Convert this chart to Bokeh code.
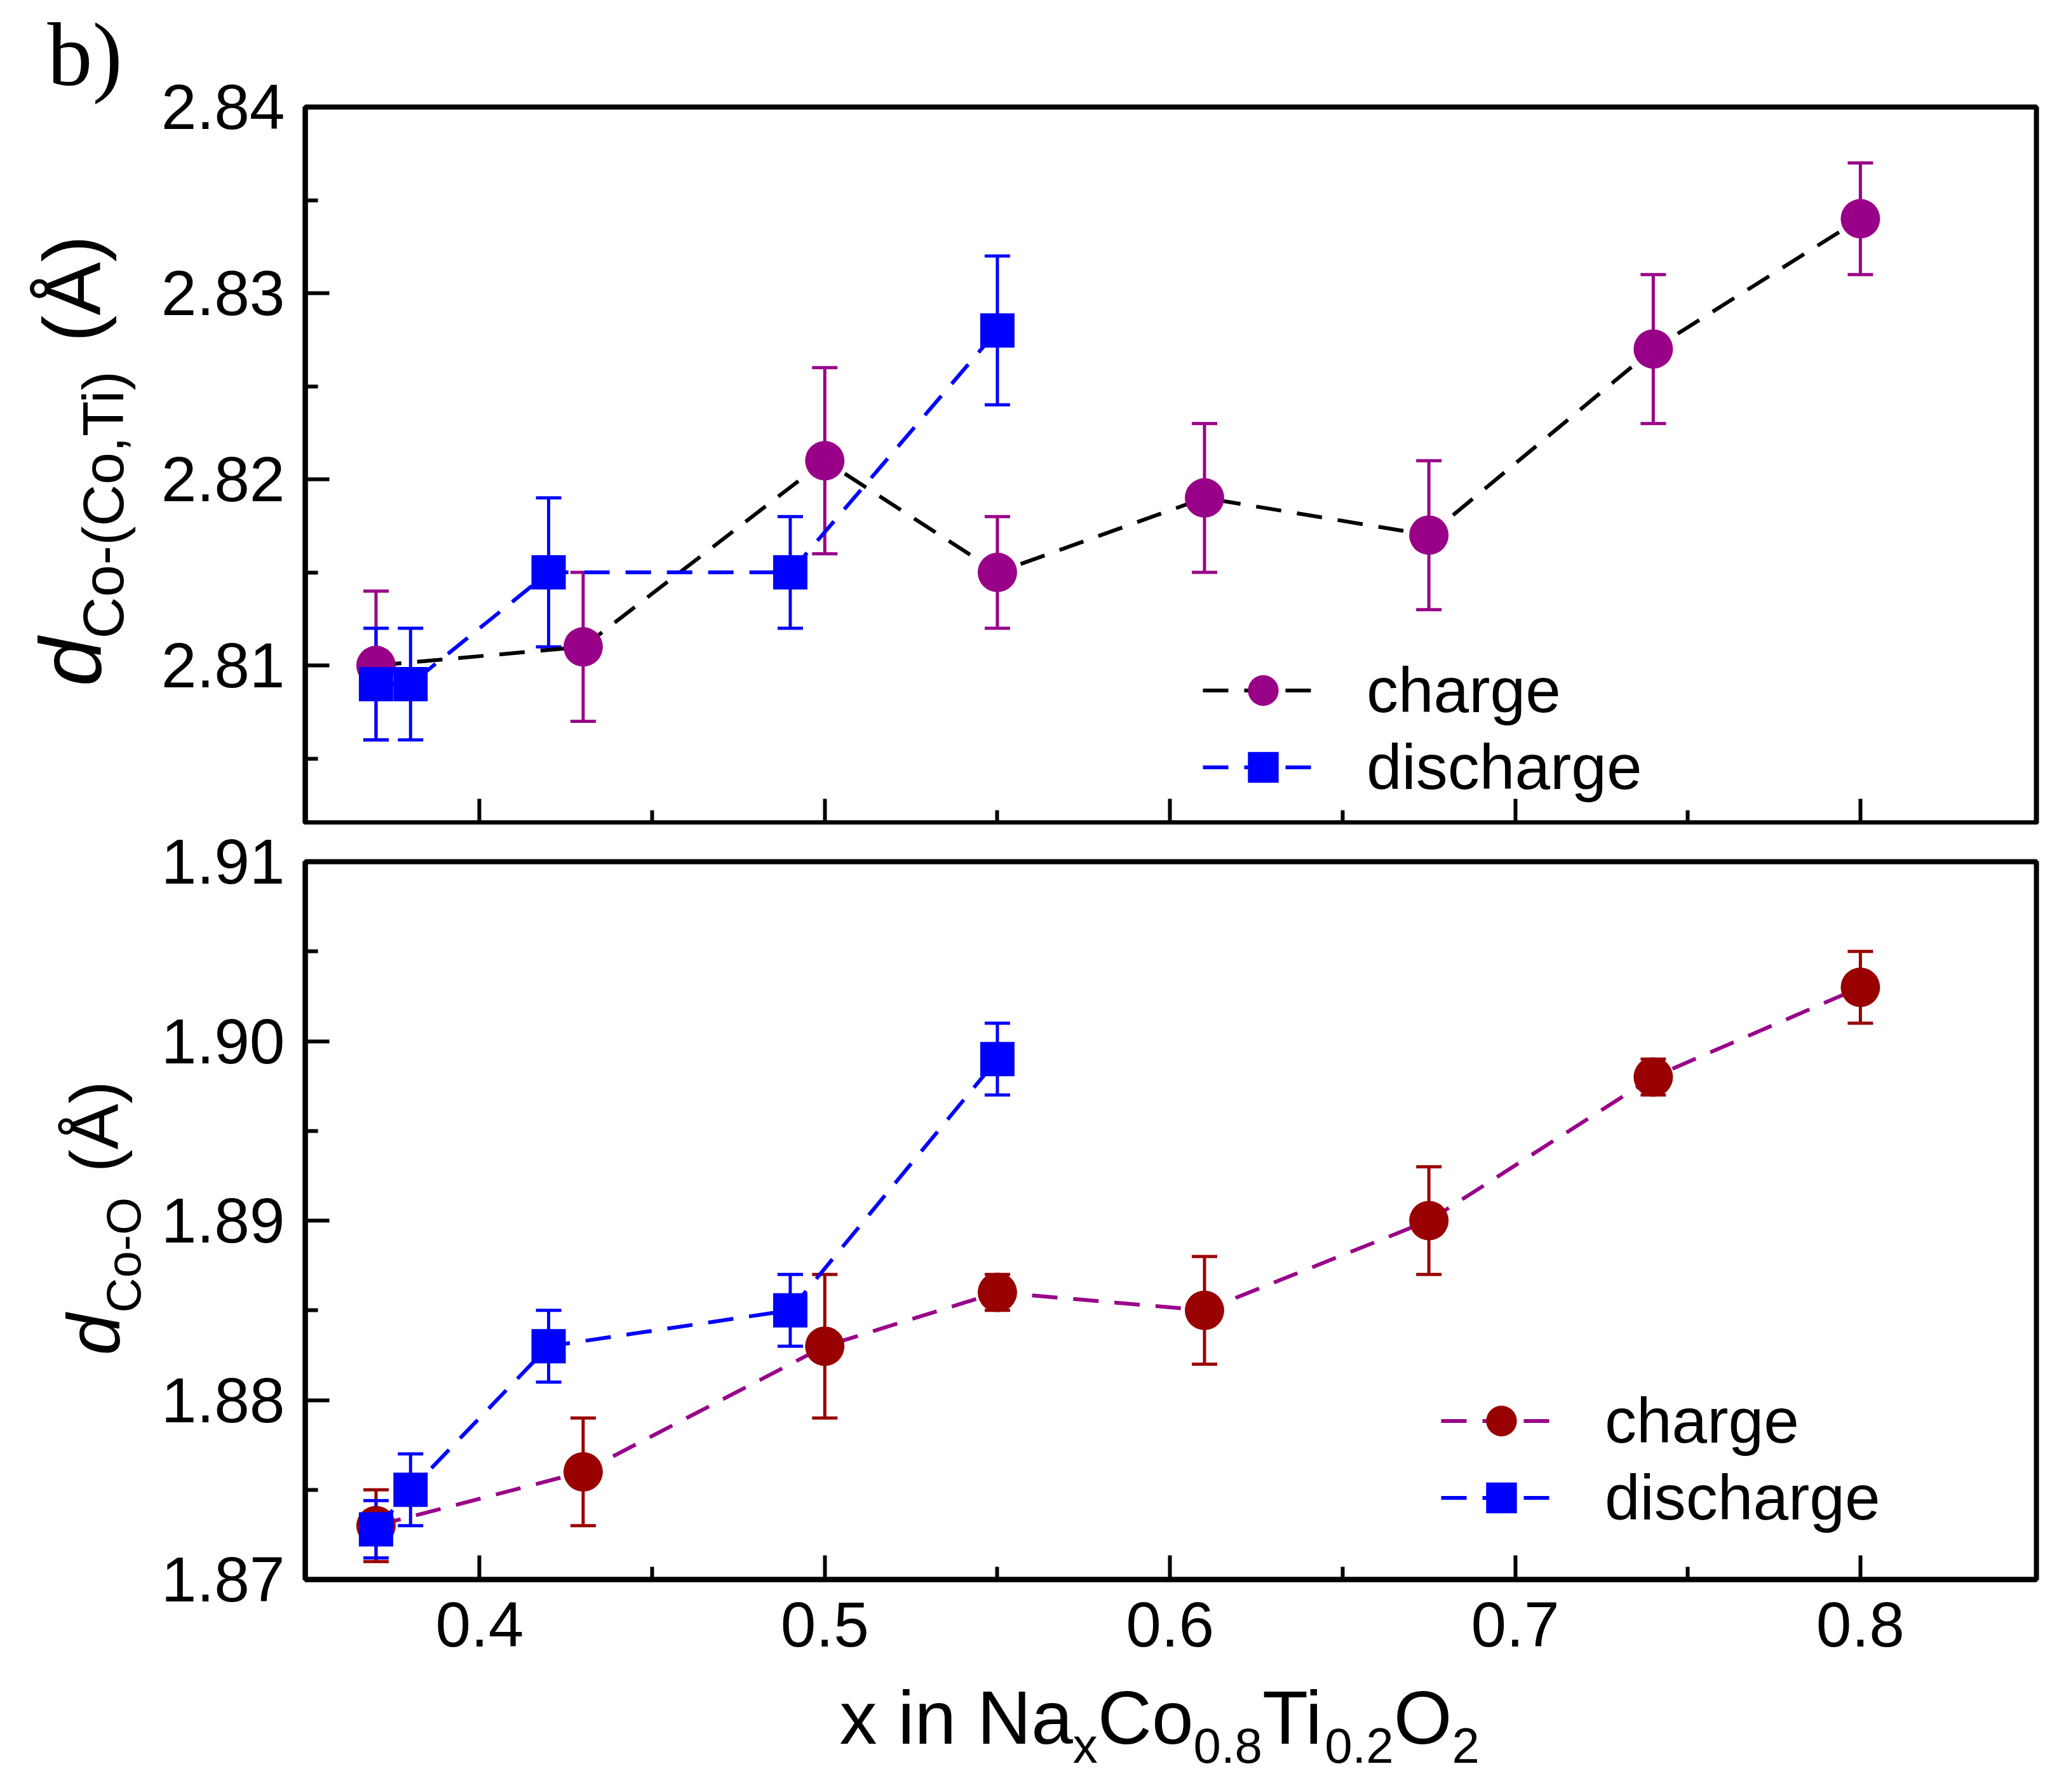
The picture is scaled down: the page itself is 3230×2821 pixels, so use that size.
import math
from bokeh.plotting import figure
from bokeh.layouts import column, row
from bokeh.models import (ColumnDataSource, Whisker, TeeHead, Legend, LegendItem,
                          Label, FixedTicker, Title)
from bokeh.embed import file_html
from bokeh.resources import INLINE

# ---------- data ----------
# top panel: d Co-(Co,Ti)
x_chg = [0.37, 0.43, 0.50, 0.55, 0.61, 0.675, 0.74, 0.80]
d_cc_chg = [2.810, 2.811, 2.821, 2.815, 2.819, 2.817, 2.827, 2.834]
d_cc_chg_err = [0.004, 0.004, 0.005, 0.003, 0.004, 0.004, 0.004, 0.003]

x_dis = [0.37, 0.38, 0.42, 0.49, 0.55]
d_cc_dis = [2.809, 2.809, 2.815, 2.815, 2.828]
d_cc_dis_err = [0.003, 0.003, 0.004, 0.003, 0.004]

# bottom panel: d Co-O
d_co_chg = [1.873, 1.876, 1.883, 1.886, 1.885, 1.890, 1.898, 1.903]
d_co_chg_err = [0.002, 0.003, 0.004, 0.001, 0.003, 0.003, 0.001, 0.002]
d_co_dis = [1.8728, 1.875, 1.883, 1.885, 1.899]
d_co_dis_err = [0.0016, 0.002, 0.002, 0.002, 0.002]

x_ticks = [0.4, 0.5, 0.6, 0.7, 0.8]
x_tick_labels = ["0.4", "0.5", "0.6", "0.7", "0.8"]
x_minor = [0.45, 0.55, 0.65, 0.75]
top_ticks = [2.81, 2.82, 2.83, 2.84]
top_tick_labels = ["2.81", "2.82", "2.83", "2.84"]
top_minor = [2.805, 2.815, 2.825, 2.835]
bot_ticks = [1.87, 1.88, 1.89, 1.90, 1.91]
bot_tick_labels = ["1.87", "1.88", "1.89", "1.90", "1.91"]
bot_minor = [1.875, 1.885, 1.895, 1.905]

PURPLE = "#990088"
DARKRED = "#990000"
BLUE = "#0000ff"
BLACK = "#000000"
FONT = "Liberation Sans"
MID = 0.35  # distance baseline -> middle of text box, in em

# Arial / Liberation Sans advance widths (per 1000 em) for placing sub-scripted text
ARIAL_W = {"x": 500, " ": 278, "i": 222, "n": 556, "N": 722, "a": 556, "C": 722,
           "o": 556, "T": 611, "O": 778, ".": 278, "-": 333, "(": 333, ")": 333,
           ",": 278}


def text_width(s, size):
    return sum(ARIAL_W.get(c, 556) for c in s) * size / 1000.0


def make_fig(y_range, frame_h, top, bottom):
    p = figure(output_backend="svg", toolbar_location=None, title=None,
               frame_width=2725, frame_height=frame_h,
               x_range=(0.3495, 0.851), y_range=y_range,
               min_border_left=220, min_border_right=19,
               min_border_top=top, min_border_bottom=bottom,
               background_fill_color="white", border_fill_color="white")
    p.grid.visible = False
    p.outline_line_color = BLACK
    p.outline_line_width = 8
    p.outline_line_alpha = 1.0
    for ax in p.axis:
        ax.axis_line_width = 8
        ax.axis_line_color = BLACK
        ax.major_tick_in = 38
        ax.major_tick_out = 0
        ax.minor_tick_in = 20
        ax.minor_tick_out = 0
        ax.major_tick_line_width = 6
        ax.minor_tick_line_width = 6
        ax.major_label_text_font = FONT
        ax.major_label_text_font_size = "100px"
        ax.major_label_text_color = BLACK
    p.xaxis.ticker = FixedTicker(ticks=x_ticks, minor_ticks=x_minor)
    p.xaxis.major_label_overrides = dict(zip(x_ticks, x_tick_labels))
    p.xaxis.major_label_standoff = 36
    p.yaxis.major_label_standoff = 32
    return p


def text_fig(w, frame_h, top, bottom):
    # blank strip with the same vertical geometry as its neighbour panel,
    # 1 data unit = 1 pixel, origin at the frame's bottom-left corner
    t = figure(output_backend="svg", toolbar_location=None, title=None,
               frame_width=w, frame_height=frame_h,
               x_range=(0, w), y_range=(0, frame_h),
               min_border_left=0, min_border_right=0,
               min_border_top=top, min_border_bottom=bottom,
               x_axis_location=None, y_axis_location=None,
               background_fill_color="white", border_fill_color="white")
    t.grid.visible = False
    t.outline_line_color = None
    return t


def add_series(p, x, y, err, line_color, marker, mcolor, msize, ecolor):
    src = ColumnDataSource(dict(x=x, y=y,
                                upper=[a + b for a, b in zip(y, err)],
                                lower=[a - b for a, b in zip(y, err)]))
    w = Whisker(source=src, base="x", upper="upper", lower="lower",
                line_color=ecolor, line_width=5, level="underlay",
                upper_head=TeeHead(size=40, line_color=ecolor, line_width=5),
                lower_head=TeeHead(size=40, line_color=ecolor, line_width=5))
    p.add_layout(w)
    ln = p.line("x", "y", source=src, line_color=line_color, line_width=6,
                line_dash="40 25")
    sc = p.scatter("x", "y", source=src, marker=marker, size=msize,
                   fill_color=mcolor, line_color=None)
    return ln, sc


def add_vtext(p, text, base_x, start_y, size, style="normal"):
    # vertical text reading upwards; base_x = baseline position
    p.add_layout(Label(x=base_x - MID * size, y=start_y, text=text,
                       angle=math.pi / 2, angle_units="rad", text_font=FONT,
                       text_font_size=f"{size}px", text_font_style=style,
                       text_color=BLACK, text_align="left",
                       text_baseline="middle"))


def add_htext(p, text, x, base_y, size, font=FONT):
    # horizontal text; base_y = baseline position (y up)
    p.add_layout(Label(x=x, y=base_y + MID * size, text=text, text_font=font,
                       text_font_size=f"{size}px", text_color=BLACK,
                       text_align="left", text_baseline="middle"))


def make_legend(p, items, loc):
    leg = Legend(items=items, location=loc, padding=0, margin=0, spacing=0,
                 glyph_width=190, glyph_height=121, label_standoff=68,
                 label_height=121,
                 label_text_font=FONT, label_text_font_size="100px",
                 label_text_color=BLACK,
                 border_line_color=None, background_fill_alpha=0)
    p.add_layout(leg)


# ---------- top panel ----------
p1 = make_fig((2.80154, 2.84), 1127, 167, 4)
p1.yaxis.ticker = FixedTicker(ticks=top_ticks, minor_ticks=top_minor)
p1.yaxis.major_label_overrides = dict(zip(top_ticks, top_tick_labels))
p1.xaxis.major_label_overrides = {t: "" for t in x_ticks}
p1.xaxis.major_label_standoff = 0

l1, s1 = add_series(p1, x_chg, d_cc_chg, d_cc_chg_err, BLACK, "circle", PURPLE, 62, PURPLE)
l2, s2 = add_series(p1, x_dis, d_cc_dis, d_cc_dis_err, BLUE, "square", BLUE, 54, BLUE)
make_legend(p1, [LegendItem(label="charge", renderers=[l1, s1]),
                 LegendItem(label="discharge", renderers=[l2, s2])], (1413, 27))

# left strip for top panel: "b)" as its title, and d_Co-(Co,Ti) (Å)
lab1 = text_fig(250, 1127, 167, 4)
lab1.add_layout(Title(text="b)", align="left", offset=74, standoff=8,
                      text_font="Liberation Serif", text_font_size="142px",
                      text_font_style="normal", text_color=BLACK), "above")
add_vtext(lab1, "d", 159, 215, 138, "italic")
add_vtext(lab1, "Co-(Co,Ti)", 194, 290, 91)
add_vtext(lab1, "(Å)", 157, 757, 126)

# ---------- bottom panel ----------
p2 = make_fig((1.87, 1.91), 1130, 57, 150)
p2.yaxis.ticker = FixedTicker(ticks=bot_ticks, minor_ticks=bot_minor)
p2.yaxis.major_label_overrides = dict(zip(bot_ticks, bot_tick_labels))

l3, s3 = add_series(p2, x_chg, d_co_chg, d_co_chg_err, PURPLE, "circle", DARKRED, 62, DARKRED)
l4, s4 = add_series(p2, x_dis, d_co_dis, d_co_dis_err, BLUE, "square", BLUE, 54, BLUE)
make_legend(p2, [LegendItem(label="charge", renderers=[l3, s3]),
                 LegendItem(label="discharge", renderers=[l4, s4])], (1788, 68))

lab2 = text_fig(250, 1130, 57, 150)
add_vtext(lab2, "d", 188, 353, 117, "italic")
add_vtext(lab2, "Co-O", 221, 420, 76)
add_vtext(lab2, "(Å)", 186, 641, 108)

# bottom strip: x in Na_x Co_0.8 Ti_0.2 O_2
xt = text_fig(3214, 170, 0, 0)
parts = [("x in Na", 118, 0), ("x", 78, -30), ("Co", 118, 0), ("0.8", 78, -30),
         ("Ti", 118, 0), ("0.2", 78, -30), ("O", 118, 0), ("2", 78, -30)]
xx = 1321
for txt, size, dy in parts:
    add_htext(xt, txt, xx, 61 + dy, size)
    xx += text_width(txt, size)

layout = column(row(lab1, p1, spacing=0), row(lab2, p2, spacing=0), xt, spacing=0)
open("out.html", "w").write(file_html(layout, INLINE))
